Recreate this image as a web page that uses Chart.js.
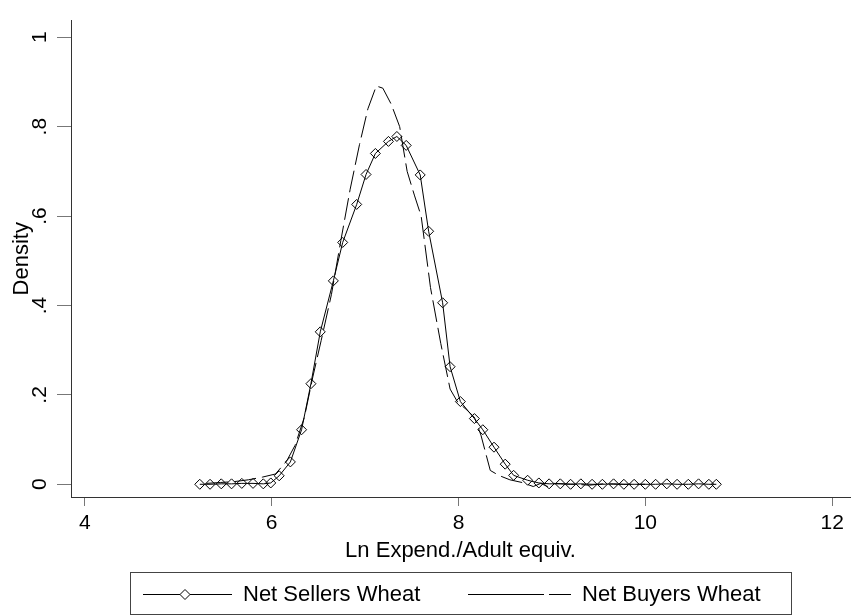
<!DOCTYPE html>
<html>
<head>
<meta charset="utf-8">
<script src="https://cdn.jsdelivr.net/npm/chart.js@4/dist/chart.umd.min.js"></script>
<style>
  html, body { margin: 0; padding: 0; background: #fff; }
  #wrap { width: 856px; height: 616px; position: relative; }
</style>
</head>
<body>
<div id="wrap"><canvas id="c" width="856" height="616"></canvas></div>
<script>
// ---- data ----
const seriesNames = ["Net Sellers Wheat", "Net Buyers Wheat"];

const sellersX = [5.23,5.34,5.46,5.57,5.68,5.80,5.91,5.99,6.08,6.20,6.32,6.42,6.52,6.66,6.76,6.91,7.01,7.11,7.25,7.34,7.44,7.59,7.68,7.83,7.91,8.02,8.17,8.26,8.38,8.50,8.59,8.74,8.86,8.97,9.09,9.20,9.31,9.43,9.54,9.66,9.77,9.88,10.00,10.11,10.23,10.34,10.46,10.57,10.68,10.76];
const sellersY = [0.000,0.000,0.001,0.001,0.002,0.002,0.001,0.003,0.019,0.050,0.122,0.225,0.341,0.455,0.541,0.626,0.693,0.740,0.767,0.778,0.758,0.692,0.566,0.406,0.263,0.185,0.147,0.122,0.083,0.045,0.020,0.009,0.003,0.001,0.001,0.000,0.001,0.000,0.000,0.001,0.000,0.000,0.000,0.000,0.001,0.000,0.000,0.001,0.000,0.000];

const buyersX = [5.30,5.45,5.60,5.75,5.90,6.04,6.16,6.25,6.35,6.44,6.53,6.64,6.74,6.84,6.94,7.03,7.12,7.19,7.28,7.37,7.45,7.53,7.60,7.70,7.81,7.91,7.99,8.08,8.17,8.24,8.34,8.43,8.55,8.68,8.80,8.88,8.95,9.02,9.12,9.25,9.40,9.55,9.70,9.85,10.00];
const buyersY = [0.002,0.004,0.006,0.010,0.016,0.023,0.052,0.087,0.150,0.240,0.322,0.425,0.545,0.660,0.760,0.840,0.891,0.886,0.850,0.800,0.700,0.645,0.600,0.440,0.315,0.213,0.184,0.168,0.150,0.110,0.031,0.020,0.010,0.004,-0.005,0.002,-0.005,0.002,0.001,0.000,-0.002,0.001,0.000,0.000,0.000];

const xTickValues = [4, 6, 8, 10, 12];
const xTickLabels = ["4", "6", "8", "10", "12"];
const yTickValues = [0, 0.2, 0.4, 0.6, 0.8, 1];
const yTickLabels = ["0", ".2", ".4", ".6", ".8", "1"];

const xTitle = "Ln Expend./Adult equiv.";
const yTitle = "Density";

// ---- chart ----
const FONT = '"Liberation Sans", Arial, Helvetica, sans-serif';

function pairs(xs, ys) { return xs.map((x, i) => ({ x: x, y: ys[i] })); }

const boxLegend = {
  id: 'boxLegend',
  afterDraw(chart) {
    const ctx = chart.ctx;
    const ds = chart.data.datasets;
    ctx.save();
    ctx.strokeStyle = '#444';
    ctx.lineWidth = 1;
    ctx.setLineDash([]);
    ctx.strokeRect(130.5, 572.5, 661, 42);
    const y = 594.5;
    // sellers sample
    ctx.strokeStyle = ds[0].borderColor;
    ctx.lineWidth = ds[0].borderWidth;
    ctx.beginPath(); ctx.moveTo(143, y); ctx.lineTo(232, y); ctx.stroke();
    const r = ds[0].pointRadius;
    ctx.fillStyle = '#fff';
    ctx.beginPath();
    ctx.moveTo(185, y - r); ctx.lineTo(185 + r, y); ctx.lineTo(185, y + r); ctx.lineTo(185 - r, y); ctx.closePath();
    ctx.fill(); ctx.stroke();
    // buyers sample
    ctx.strokeStyle = ds[1].borderColor;
    ctx.lineWidth = ds[1].borderWidth;
    ctx.setLineDash([76, 5]);
    ctx.beginPath(); ctx.moveTo(468, y); ctx.lineTo(571, y); ctx.stroke();
    ctx.setLineDash([]);
    // texts
    ctx.fillStyle = '#000';
    ctx.font = '22px ' + FONT;
    ctx.textBaseline = 'middle';
    ctx.textAlign = 'left';
    ctx.fillText(ds[0].label, 243, y);
    ctx.fillText(ds[1].label, 582, y);
    ctx.restore();
  }
};

new Chart(document.getElementById('c'), {
  type: 'scatter',
  data: {
    datasets: [
      {
        label: seriesNames[0],
        data: pairs(sellersX, sellersY),
        showLine: true,
        borderColor: '#000',
        borderWidth: 1,
        pointStyle: 'rectRot',
        pointRadius: 5,
        pointBorderColor: '#000',
        pointBackgroundColor: 'rgba(255,255,255,0)',
        pointBorderWidth: 1,
        tension: 0
      },
      {
        label: seriesNames[1],
        data: pairs(buyersX, buyersY),
        showLine: true,
        borderColor: '#000',
        borderWidth: 1,
        borderDash: [22, 6],
        pointRadius: 0,
        tension: 0
      }
    ]
  },
  options: {
    responsive: false,
    animation: false,
    devicePixelRatio: 1,
    events: [],
    layout: { padding: { top: 10, right: 0, left: 0, bottom: 0 } },
    plugins: {
      legend: { display: false },
      tooltip: { enabled: false }
    },
    scales: {
      x: {
        type: 'linear',
        min: 3.8513,
        max: 12.1912,
        afterFit: (s) => { s.height = 119; },
        afterBuildTicks: (s) => { s.ticks = xTickValues.map(v => ({ value: v })); },
        ticks: {
          color: '#000',
          font: { family: FONT, size: 21 },
          padding: 5,
          maxRotation: 0,
          minRotation: 0,
          autoSkip: false,
          callback: (v) => { const i = xTickValues.indexOf(v); return i >= 0 ? xTickLabels[i] : ''; }
        },
        grid: { drawOnChartArea: false, drawTicks: true, tickLength: 9, tickColor: '#777', tickWidth: 1 },
        border: { display: true, color: '#333', width: 1 },
        title: {
          display: true,
          text: xTitle,
          color: '#000',
          font: { family: FONT, size: 22 },
          padding: { top: 0, bottom: 52 }
        }
      },
      y: {
        type: 'linear',
        min: -0.02845,
        max: 1.0372,
        afterFit: (s) => { s.width = 71; },
        afterBuildTicks: (s) => { s.ticks = yTickValues.map(v => ({ value: v })); },
        ticks: {
          color: '#000',
          font: { family: FONT, size: 21 },
          padding: 8,
          minRotation: 90,
          maxRotation: 90,
          crossAlign: 'center',
          autoSkip: false,
          callback: (v) => {
            const i = yTickValues.findIndex(t => Math.abs(t - v) < 1e-9);
            return i >= 0 ? yTickLabels[i] : '';
          }
        },
        grid: { drawOnChartArea: false, drawTicks: true, tickLength: 14, tickColor: '#777', tickWidth: 1 },
        border: { display: true, color: '#333', width: 1 },
        title: {
          display: true,
          text: yTitle,
          color: '#000',
          font: { family: FONT, size: 22 },
          padding: { top: 9, bottom: 0 }
        }
      }
    }
  },
  plugins: [boxLegend]
});
</script>
</body>
</html>
